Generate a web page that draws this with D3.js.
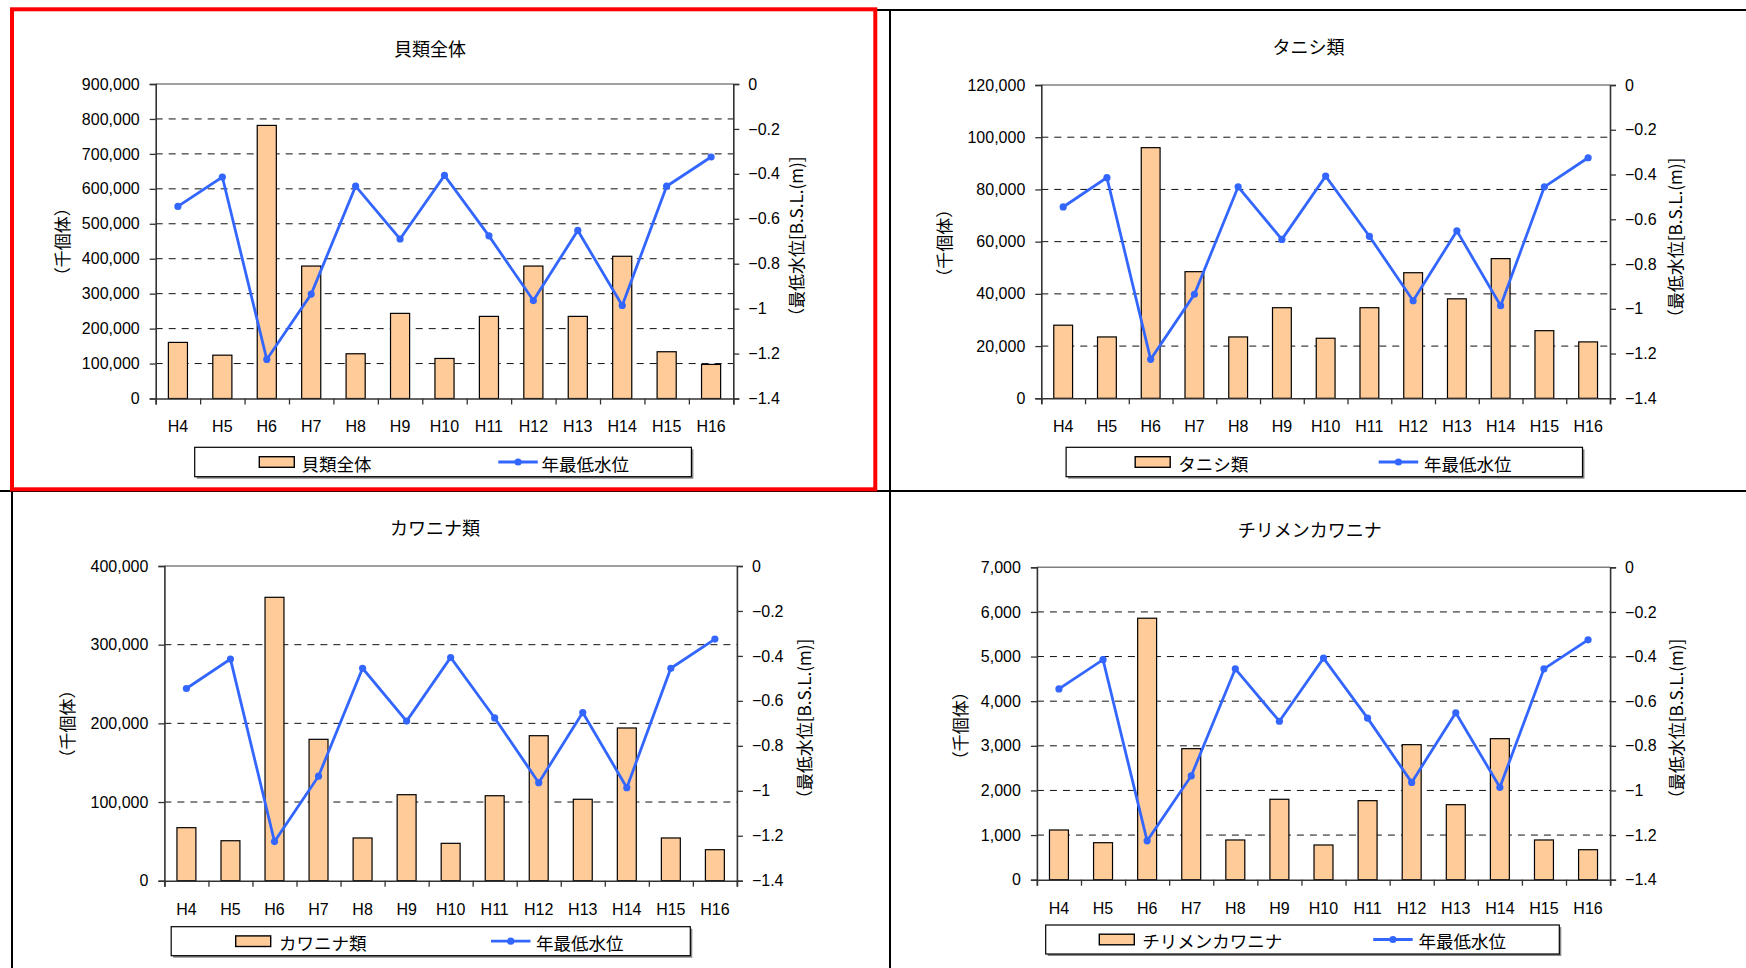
<!DOCTYPE html>
<html>
<head>
<meta charset="utf-8">
<script src="https://cdn.jsdelivr.net/npm/d3@7"></script>
<style>
  html, body { margin: 0; padding: 0; background: #fff; }
  svg { display: block; }
  .num { font-family: "Liberation Sans", Arial, sans-serif; font-size: 16px; fill: #000; }
  .jp { font-family: "Noto Sans CJK JP", sans-serif; fill: #000; }
</style>
</head>
<body>
<svg id="chart" width="1746" height="968"></svg>
<script>
// Survey years (Heisei era)
const years = ["H4", "H5", "H6", "H7", "H8", "H9", "H10", "H11", "H12", "H13", "H14", "H15", "H16"];

// Annual minimum water level, m (B.S.L.)
const waterLevel = [-0.545, -0.414, -1.226, -0.935, -0.455, -0.69, -0.407, -0.676, -0.964, -0.652, -0.986, -0.455, -0.325];

// Estimated populations, thousands of individuals
const shellTotal = [160500, 124000, 781500, 379000, 128000, 243600, 114600, 235000, 379000, 235000, 407000, 133800, 97500];
const tanishi    = [28000, 23500, 96000, 48500, 23500, 34700, 23000, 34700, 48100, 38100, 53500, 25900, 21600];
const kawanina   = [67400, 50800, 360200, 179700, 54300, 109300, 47500, 108000, 184300, 103500, 194100, 54300, 39400];
const chirimen   = [1114, 829, 5859, 2936, 890, 1802, 778, 1771, 3026, 1681, 3160, 890, 672];

// Axis ticks
const shellTicks    = [0, 100000, 200000, 300000, 400000, 500000, 600000, 700000, 800000, 900000];
const tanishiTicks  = [0, 20000, 40000, 60000, 80000, 100000, 120000];
const kawaninaTicks = [0, 100000, 200000, 300000, 400000];
const chirimenTicks = [0, 1000, 2000, 3000, 4000, 5000, 6000, 7000];
const levelTicks    = [0, -0.2, -0.4, -0.6, -0.8, -1, -1.2, -1.4];

// Text
const titles = ["貝類全体", "タニシ類", "カワニナ類", "チリメンカワニナ"];
const lineLabel = "年最低水位";
const leftAxisTitle = "（千個体）";
const rightAxisTitle = "（最低水位[B.S.L.(m)]";

const BAR_FILL = "#FFCC99";
const LINE_BLUE = "#3366FF";

const svg = d3.select("#chart");

// Panel frames: a highlight box around the first chart and separators
svg.append("line").attr("x1", 0).attr("x2", 1746).attr("y1", 491).attr("y2", 491)
  .attr("stroke", "#000").attr("stroke-width", 2);
svg.append("line").attr("x1", 875).attr("x2", 1746).attr("y1", 10).attr("y2", 10)
  .attr("stroke", "#000").attr("stroke-width", 2);
svg.append("line").attr("x1", 890).attr("x2", 890).attr("y1", 9).attr("y2", 968)
  .attr("stroke", "#000").attr("stroke-width", 2);
svg.append("line").attr("x1", 12).attr("x2", 12).attr("y1", 490).attr("y2", 968)
  .attr("stroke", "#000").attr("stroke-width", 2);
svg.append("rect").attr("x", 12).attr("y", 9.3).attr("width", 863.3).attr("height", 480)
  .attr("fill", "none").attr("stroke", "#FF0000").attr("stroke-width", 4);

const panels = [
  { title: titles[0], values: shellTotal, ticks: shellTicks,
    plot: { left: 155.7, right: 733.3, top: 84, bottom: 398.5 },
    titlePos: [430, 48.3], xLabelY: 426.7,
    legend: { x0: 194.7, x1: 691.4, y0: 447.3, y1: 476.7, swatch: 259.3, text1: 301.4, line: 498.3, text2: 541.6 },
    leftTitle: [61.7, 241.7], rightTitle: [795.8, 240.8] },
  { title: titles[1], values: tanishi, ticks: tanishiTicks,
    plot: { left: 1041.3, right: 1610, top: 85, bottom: 398.3 },
    titlePos: [1308.6, 46], xLabelY: 426.7,
    legend: { x0: 1066.1, x1: 1582.5, y0: 447.3, y1: 476.7, swatch: 1135.2, text1: 1178.2, line: 1378.7, text2: 1424 },
    leftTitle: [943.5, 243.3], rightTitle: [1674.2, 242] },
  { title: titles[2], values: kawanina, ticks: kawaninaTicks,
    plot: { left: 164.4, right: 736.9, top: 566, bottom: 880.7 },
    titlePos: [435, 526.7], xLabelY: 909,
    legend: { x0: 171.2, x1: 690.3, y0: 926.7, y1: 955.7, swatch: 235.7, text1: 278.9, line: 491, text2: 536 },
    leftTitle: [66.2, 724], rightTitle: [803.6, 723] },
  { title: titles[3], values: chirimen, ticks: chirimenTicks,
    plot: { left: 1036.9, right: 1610.1, top: 567.3, bottom: 879.7 },
    titlePos: [1309.7, 529], xLabelY: 908,
    legend: { x0: 1045.7, x1: 1559.3, y0: 925, y1: 954, swatch: 1099.3, text1: 1142.3, line: 1373.2, text2: 1418.5 },
    leftTitle: [959, 725.7], rightTitle: [1675.3, 723] }
];

const fmtLevel = d => d === 0 ? "0" : "−" + d3.format("~g")(Math.abs(d));

function drawPanel(cfg) {
  const p = cfg.plot;
  const g = svg.append("g");
  const yMax = d3.max(cfg.ticks);

  const x = d3.scaleBand(years, [p.left, p.right]).paddingInner(0.57).paddingOuter(0.285);
  const xIdx = d3.scaleLinear([0, years.length], [p.left, p.right]);
  const y = d3.scaleLinear([0, yMax], [p.bottom, p.top]);
  const y2 = d3.scaleLinear([-1.4, 0], [p.bottom, p.top]);

  // Dashed gridlines
  g.append("g").selectAll("line")
    .data(cfg.ticks.filter(t => t > 0 && t < yMax))
    .join("line")
    .attr("x1", p.left).attr("x2", p.right)
    .attr("y1", d => y(d)).attr("y2", d => y(d))
    .attr("stroke", "#111").attr("stroke-width", 1).attr("stroke-dasharray", "7,6");
  // Top edge of plot area
  g.append("line").attr("x1", p.left).attr("x2", p.right)
    .attr("y1", y(yMax)).attr("y2", y(yMax))
    .attr("stroke", "#808080").attr("stroke-width", 1.6);

  // Bars
  g.append("g").selectAll("rect")
    .data(cfg.values)
    .join("rect")
    .attr("x", (d, i) => x(years[i]))
    .attr("width", x.bandwidth())
    .attr("y", d => y(d))
    .attr("height", d => y(0) - y(d))
    .attr("fill", BAR_FILL).attr("stroke", "#000").attr("stroke-width", 1.2);

  // Left axis
  const la = g.append("g").attr("transform", `translate(${p.left},0)`)
    .call(d3.axisLeft(y).tickValues(cfg.ticks).tickSize(6).tickPadding(10).tickFormat(d3.format(",")));
  // Right axis
  const ra = g.append("g").attr("transform", `translate(${p.right},0)`)
    .call(d3.axisRight(y2).tickValues(levelTicks).tickSize(6).tickPadding(9).tickFormat(fmtLevel));
  // Bottom axis with ticks between categories
  const ba = g.append("g").attr("transform", `translate(0,${p.bottom})`)
    .call(d3.axisBottom(xIdx).tickValues(d3.range(years.length + 1)).tickSize(6).tickFormat(""));

  [la, ra, ba].forEach(a => {
    a.attr("font-family", null).attr("font-size", null);
    a.select(".domain").attr("stroke", "#333").attr("stroke-width", 1.6);
    a.selectAll(".tick line").attr("stroke", "#333").attr("stroke-width", 1.3);
    a.selectAll("text").attr("class", "num");
  });

  // Category labels
  g.append("g").selectAll("text")
    .data(years)
    .join("text")
    .attr("class", "num")
    .attr("x", d => x(d) + x.bandwidth() / 2)
    .attr("y", cfg.xLabelY)
    .attr("text-anchor", "middle")
    .attr("dominant-baseline", "central")
    .text(d => d);

  // Water level line with markers
  const line = d3.line().x((d, i) => x(years[i]) + x.bandwidth() / 2).y(d => y2(d));
  g.append("path").datum(waterLevel)
    .attr("d", line).attr("fill", "none")
    .attr("stroke", LINE_BLUE).attr("stroke-width", 2.8).attr("stroke-linejoin", "miter");
  g.append("g").selectAll("circle")
    .data(waterLevel)
    .join("circle")
    .attr("cx", (d, i) => x(years[i]) + x.bandwidth() / 2)
    .attr("cy", d => y2(d))
    .attr("r", 3.6)
    .attr("fill", LINE_BLUE);

  // Title
  g.append("text").attr("class", "jp")
    .attr("x", cfg.titlePos[0]).attr("y", cfg.titlePos[1])
    .attr("text-anchor", "middle").attr("dominant-baseline", "central")
    .attr("font-size", 18).text(cfg.title);

  // Axis titles
  g.append("text").attr("class", "jp")
    .attr("transform", `translate(${cfg.leftTitle[0]},${cfg.leftTitle[1]}) rotate(-90)`)
    .attr("text-anchor", "middle").attr("dominant-baseline", "central")
    .attr("font-size", 17).text(leftAxisTitle);
  g.append("text").attr("class", "jp")
    .attr("transform", `translate(${cfg.rightTitle[0]},${cfg.rightTitle[1]}) rotate(-90)`)
    .attr("text-anchor", "middle").attr("dominant-baseline", "central")
    .attr("font-size", 17).text(rightAxisTitle);

  // Legend
  const L = cfg.legend;
  const cy = (L.y0 + L.y1) / 2;
  g.append("rect").attr("x", L.x0 + 2).attr("y", L.y0 + 2)
    .attr("width", L.x1 - L.x0).attr("height", L.y1 - L.y0).attr("fill", "#888");
  g.append("rect").attr("x", L.x0).attr("y", L.y0)
    .attr("width", L.x1 - L.x0).attr("height", L.y1 - L.y0)
    .attr("fill", "#fff").attr("stroke", "#000").attr("stroke-width", 1.2);
  g.append("rect").attr("x", L.swatch).attr("y", cy - 5.3)
    .attr("width", 35).attr("height", 10.6)
    .attr("fill", BAR_FILL).attr("stroke", "#000").attr("stroke-width", 1.4);
  g.append("text").attr("class", "jp")
    .attr("x", L.text1).attr("y", cy + 1).attr("dominant-baseline", "central")
    .attr("font-size", 17.5).text(cfg.title);
  g.append("line").attr("x1", L.line).attr("x2", L.line + 39.5)
    .attr("y1", cy).attr("y2", cy)
    .attr("stroke", LINE_BLUE).attr("stroke-width", 2.8);
  g.append("circle").attr("cx", L.line + 19.75).attr("cy", cy).attr("r", 3.6).attr("fill", LINE_BLUE);
  g.append("text").attr("class", "jp")
    .attr("x", L.text2).attr("y", cy + 1).attr("dominant-baseline", "central")
    .attr("font-size", 17.5).text(lineLabel);
}

panels.forEach(drawPanel);
</script>
</body>
</html>
